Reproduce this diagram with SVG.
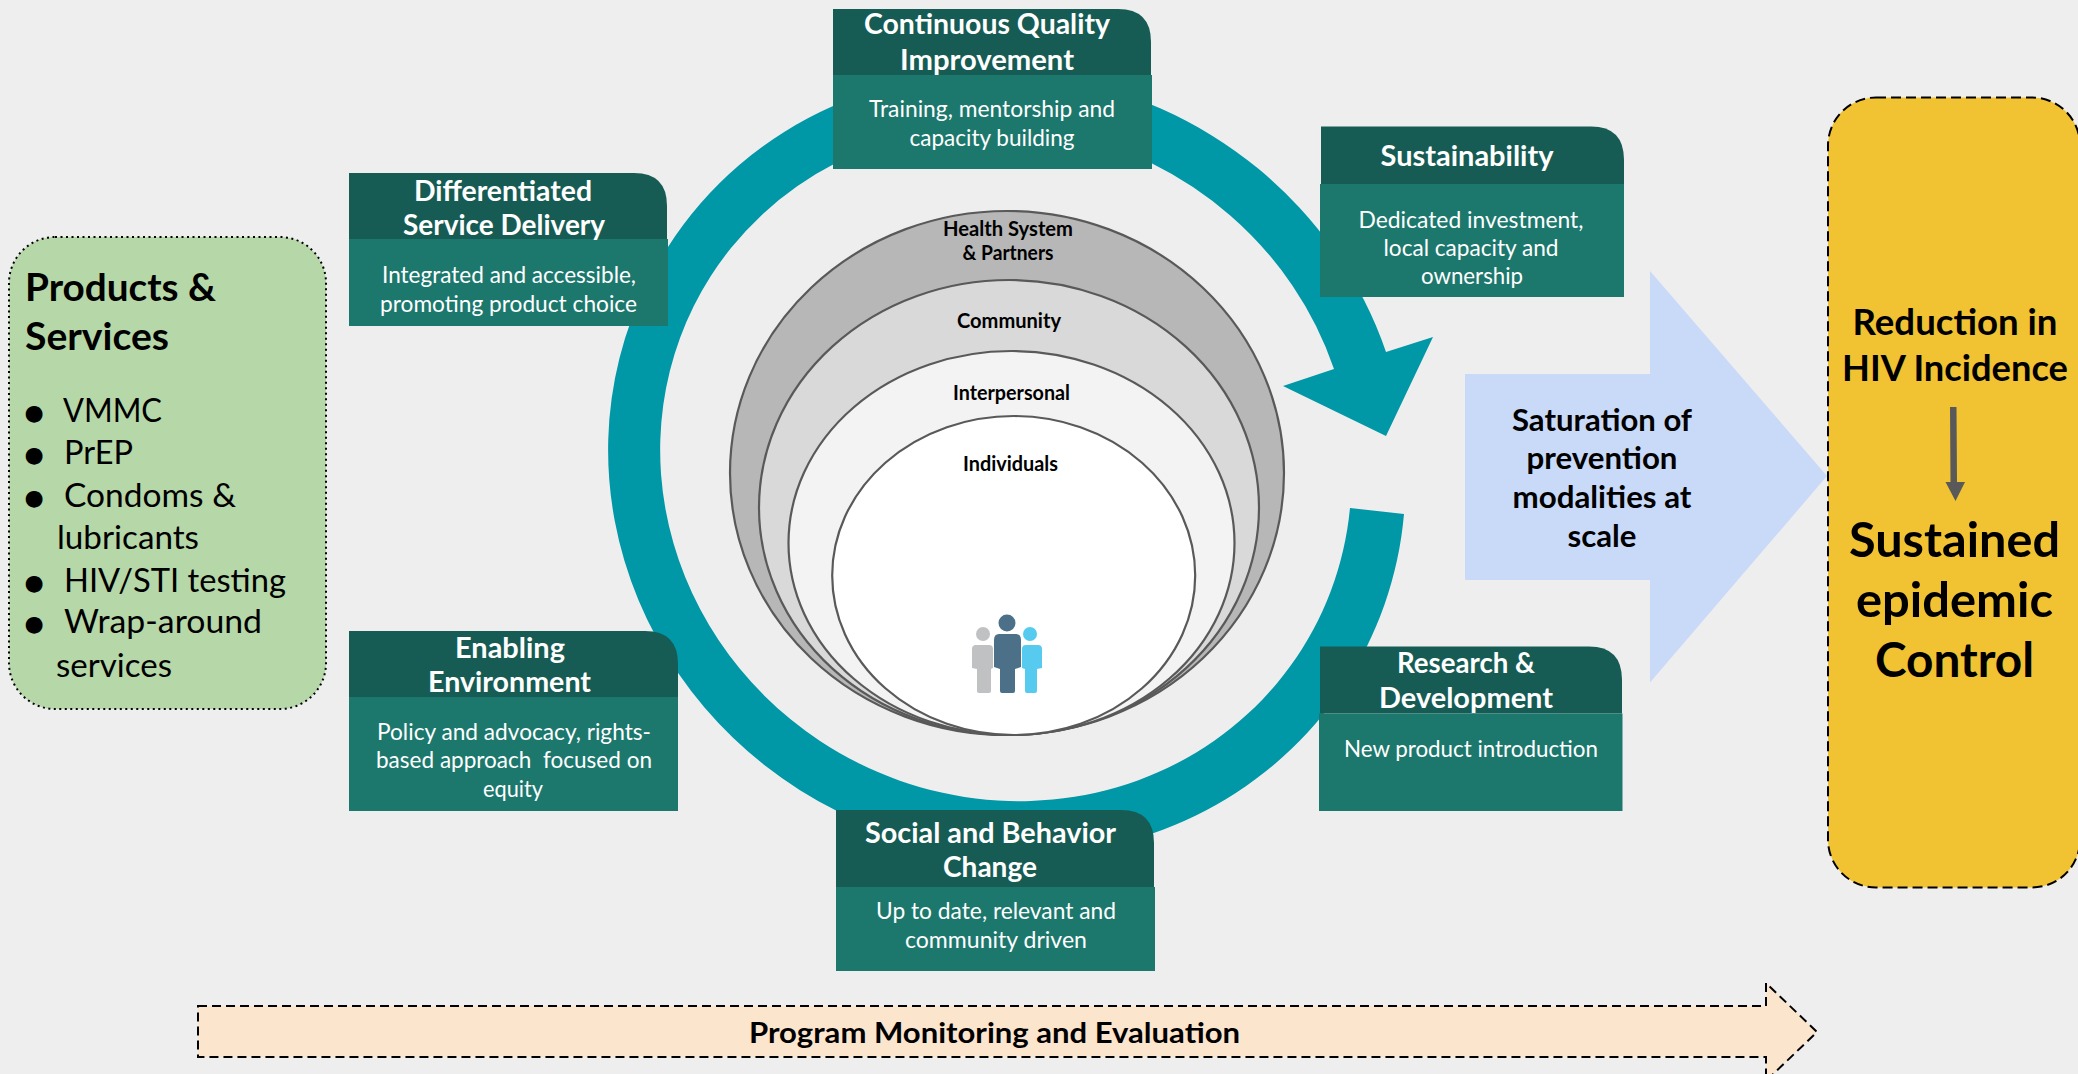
<svg xmlns="http://www.w3.org/2000/svg" width="2078" height="1074" viewBox="0 0 2078 1074">
<style>
text{font-family:"Lato","Liberation Sans",sans-serif;text-anchor:middle;fill:#000}
.l{text-anchor:start}
.hd{fill:#165C54}.bd{fill:#1C786D}
.t{fill:#fff;font-weight:700;font-size:28px}
.b{fill:#fff;font-size:23px}
.ring{fill:#0097A7}
.e{stroke:#595959;stroke-width:2.2}
.in{font-size:20px;font-weight:700}
.st{font-size:32px}
.bu{font-family:"DejaVu Sans",sans-serif;font-size:22px;text-anchor:middle}
.sat{font-size:30px;font-weight:700}
</style>
<rect width="2078" height="1074" fill="#EEEEEE"/>
<g id="connectors">
<path id="cycle-arrow" class="ring" d="M1404,514 A403,385 30 0 1 837,811 A403,385 30 0 1 668,247 A403,385 30 0 1 1386,352 L1433,337 L1386,436 L1283,386 L1334,369 A350,334 30 0 0 731,248 A350,334 30 0 0 820,741 A350,334 30 0 0 1350,508 Z"/>
</g>
<g id="levels">
<g id="level-health"><ellipse class="e" cx="1007" cy="473" rx="277" ry="262" fill="#B7B7B7"/><text class="in" x="1008" y="235.500" textLength="130" lengthAdjust="spacingAndGlyphs">Health System</text><text class="in" x="1008" y="260" textLength="91" lengthAdjust="spacingAndGlyphs">&amp; Partners</text></g>
<g id="level-community"><ellipse class="e" cx="1009" cy="507.500" rx="250" ry="227.500" fill="#D9D9D9"/><text class="in" x="1009" y="328" textLength="104" lengthAdjust="spacingAndGlyphs">Community</text></g>
<g id="level-interpersonal"><ellipse class="e" cx="1011.500" cy="543" rx="223" ry="192" fill="#F3F3F3"/><text class="in" x="1011.500" y="399.500" textLength="117" lengthAdjust="spacingAndGlyphs">Interpersonal</text></g>
<g id="level-individuals"><ellipse class="e" cx="1013.700" cy="575.500" rx="181.500" ry="159.500" fill="#FFFFFF"/><text class="in" x="1010.500" y="471" textLength="95" lengthAdjust="spacingAndGlyphs">Individuals</text>
<g id="people">
<circle cx="983" cy="634" r="7" fill="#BFC1C3"/><path d="M976,645 H989 Q993,645 993,649 V668 L991,669 V691 Q991,693 989,693 H979 Q977,693 977,691 V669 L972,668 V649 Q972,645 976,645Z" fill="#BFC1C3"/>
<circle cx="1030" cy="634" r="7" fill="#56CBEF"/><path d="M1026,645 H1038 Q1042,645 1042,649 V668 L1037,669 V691 Q1037,693 1035,693 H1027 Q1025,693 1025,691 V669 L1022,668 V649 Q1022,645 1026,645Z" fill="#56CBEF"/>
<circle cx="1007" cy="623" r="8.500" fill="#4B7088"/><path d="M999,634 H1016 Q1021,634 1021,640 V667 L1015,669 V691 Q1015,693 1013,693 H1002 Q1000,693 1000,691 V669 L994,667 V640 Q994,634 999,634Z" fill="#4B7088"/>
</g></g>
</g>
<g id="products-services">
<rect x="9" y="237" width="317" height="472" rx="46" fill="#B6D7A8" stroke="#000" stroke-width="2" stroke-dasharray="2 3.500"/>
<text class="l" x="25" y="301" font-size="38" font-weight="700" textLength="191" lengthAdjust="spacingAndGlyphs">Products &amp;</text>
<text class="l" x="25" y="350" font-size="38" font-weight="700" textLength="144" lengthAdjust="spacingAndGlyphs">Services</text>
<text class="bu" x="34" y="420">●</text><text class="st l" x="63" y="422" textLength="99" lengthAdjust="spacingAndGlyphs">VMMC</text>
<text class="bu" x="34" y="462">●</text><text class="st l" x="64" y="464" textLength="69" lengthAdjust="spacingAndGlyphs">PrEP</text>
<text class="bu" x="34" y="505">●</text><text class="st l" x="64" y="507" textLength="172" lengthAdjust="spacingAndGlyphs">Condoms &amp;</text>
<text class="st l" x="57" y="549" textLength="142" lengthAdjust="spacingAndGlyphs">lubricants</text>
<text class="bu" x="34" y="590">●</text><text class="st l" x="64" y="592" textLength="222" lengthAdjust="spacingAndGlyphs">HIV/STI testing</text>
<text class="bu" x="34" y="631">●</text><text class="st l" x="64" y="633" textLength="198" lengthAdjust="spacingAndGlyphs">Wrap-around</text>
<text class="st l" x="56" y="677" textLength="116" lengthAdjust="spacingAndGlyphs">services</text>
</g>
<g id="continuous-quality">
<path class="hd" d="M833,9 H1118 Q1151,9 1151,42 V75 H833Z"/><rect class="bd" x="833" y="75" width="319" height="94"/>
<text class="t" x="987" y="34" textLength="246" lengthAdjust="spacingAndGlyphs">Continuous Quality</text><text class="t" x="987" y="70" textLength="174" lengthAdjust="spacingAndGlyphs">Improvement</text>
<text class="b" x="992" y="117" textLength="246" lengthAdjust="spacingAndGlyphs">Training, mentorship and</text><text class="b" x="992" y="146" textLength="165" lengthAdjust="spacingAndGlyphs">capacity building</text>
</g>
<g id="sustainability">
<path class="hd" d="M1321,126.500 H1591 Q1624,126.500 1624,160 V184 H1321Z"/><rect class="bd" x="1320" y="184" width="304" height="113"/>
<text class="t" x="1467" y="166" textLength="173" lengthAdjust="spacingAndGlyphs">Sustainability</text>
<text class="b" x="1471" y="228" textLength="225" lengthAdjust="spacingAndGlyphs">Dedicated investment,</text><text class="b" x="1471" y="256" textLength="175" lengthAdjust="spacingAndGlyphs">local capacity and</text><text class="b" x="1472" y="284" textLength="102" lengthAdjust="spacingAndGlyphs">ownership</text>
</g>
<g id="differentiated-service">
<path class="hd" d="M349,173 H634 Q667,173 667,206 V239 H349Z"/><rect class="bd" x="349" y="239" width="319" height="87"/>
<text class="t" x="503" y="201" textLength="178" lengthAdjust="spacingAndGlyphs">Differentiated</text><text class="t" x="504" y="235" textLength="202" lengthAdjust="spacingAndGlyphs">Service Delivery</text>
<text class="b" x="509" y="283" textLength="254" lengthAdjust="spacingAndGlyphs">Integrated and accessible,</text><text class="b" x="508.500" y="312" textLength="257" lengthAdjust="spacingAndGlyphs">promoting product choice</text>
</g>
<g id="enabling-environment">
<path class="hd" d="M349,631 H645 Q678,631 678,664 V697 H349Z"/><rect class="bd" x="349" y="697" width="329" height="114"/>
<text class="t" x="510" y="658" textLength="110" lengthAdjust="spacingAndGlyphs">Enabling</text><text class="t" x="509.500" y="692" textLength="163" lengthAdjust="spacingAndGlyphs">Environment</text>
<text class="b" x="514" y="740" textLength="274" lengthAdjust="spacingAndGlyphs">Policy and advocacy, rights-</text><text class="b" x="514" y="768" xml:space="preserve" textLength="276" lengthAdjust="spacingAndGlyphs">based approach  focused on</text><text class="b" x="513" y="797" textLength="60" lengthAdjust="spacingAndGlyphs">equity</text>
</g>
<g id="research-development">
<path class="hd" d="M1320,646.500 H1589 Q1622,646.500 1622,680 V713.500 H1320Z"/><rect class="bd" x="1319" y="713.500" width="303.500" height="97.500"/>
<text class="t" x="1466" y="672.500" textLength="138" lengthAdjust="spacingAndGlyphs">Research &amp;</text><text class="t" x="1466" y="708" textLength="174" lengthAdjust="spacingAndGlyphs">Development</text>
<text class="b" x="1471" y="757" textLength="254" lengthAdjust="spacingAndGlyphs">New product introduction</text>
</g>
<g id="social-behavior">
<path class="hd" d="M836,810 H1121 Q1154,810 1154,843 V887 H836Z"/><rect class="bd" x="836" y="887" width="319" height="84"/>
<text class="t" x="990.500" y="843" textLength="251" lengthAdjust="spacingAndGlyphs">Social and Behavior</text><text class="t" x="990" y="877" textLength="94" lengthAdjust="spacingAndGlyphs">Change</text>
<text class="b" x="996" y="919" textLength="240" lengthAdjust="spacingAndGlyphs">Up to date, relevant and</text><text class="b" x="996" y="948" textLength="182" lengthAdjust="spacingAndGlyphs">community driven</text>
</g>
<g id="saturation">
<path d="M1465,374 H1650 V271 L1827,476 L1650,682.500 V580 H1465Z" fill="#C9DAF8"/>
<text class="sat" x="1602" y="431" textLength="180" lengthAdjust="spacingAndGlyphs">Saturation of</text><text class="sat" x="1602" y="468.500" textLength="151" lengthAdjust="spacingAndGlyphs">prevention</text><text class="sat" x="1602" y="508" textLength="179" lengthAdjust="spacingAndGlyphs">modalities at</text><text class="sat" x="1602" y="546.500" textLength="69" lengthAdjust="spacingAndGlyphs">scale</text>
</g>
<g id="outcome">
<rect x="1828" y="97.500" width="252" height="790" rx="48" fill="#F1C232" stroke="#000" stroke-width="2" stroke-dasharray="10 5"/>
<text x="1955" y="335" font-size="37" font-weight="700" textLength="205" lengthAdjust="spacingAndGlyphs">Reduction in</text><text x="1955" y="381" font-size="37" font-weight="700" textLength="226" lengthAdjust="spacingAndGlyphs">HIV Incidence</text>
<path id="outcome-arrow" d="M1950,407 H1956.500 L1957,482 H1965 L1955.500,501 L1945.500,482 H1950.500Z" fill="#595959"/>
<text x="1954.500" y="557" font-size="48" font-weight="700" textLength="211" lengthAdjust="spacingAndGlyphs">Sustained</text><text x="1954.500" y="617" font-size="48" font-weight="700" textLength="197" lengthAdjust="spacingAndGlyphs">epidemic</text><text x="1954.500" y="677" font-size="48" font-weight="700" textLength="159" lengthAdjust="spacingAndGlyphs">Control</text>
</g>
<g id="monitoring">
<path d="M198,1006 H1766 V983 L1817,1032 L1766,1081 V1057 H198Z" fill="#FCE5CD" stroke="#000" stroke-width="2" stroke-dasharray="9 5"/>
<text x="994.500" y="1043" font-size="29" font-weight="700" textLength="491" lengthAdjust="spacingAndGlyphs">Program Monitoring and Evaluation</text>
</g>
</svg>
